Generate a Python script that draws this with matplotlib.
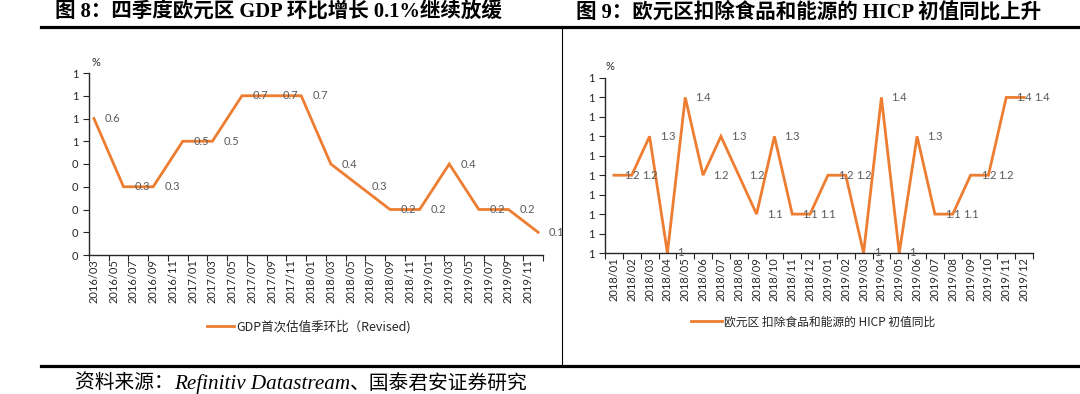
import matplotlib
matplotlib.use("Agg")
import matplotlib.pyplot as plt
from matplotlib.lines import Line2D
from matplotlib.ticker import FuncFormatter

# 图8：GDP首次估值季环比 (%)
gdp_dates = ["2016/03", "2016/06", "2016/09", "2016/12", "2017/03", "2017/06", "2017/09", "2017/12",
             "2018/03", "2018/06", "2018/09", "2018/12", "2019/03", "2019/06", "2019/09", "2019/12"]
gdp_values = [0.6, 0.3, 0.3, 0.5, 0.5, 0.7, 0.7, 0.7, 0.4, 0.3, 0.2, 0.2, 0.4, 0.2, 0.2, 0.1]
gdp_ticklabels = ["2016/03", "2016/05", "2016/07", "2016/09", "2016/11", "2017/01", "2017/03", "2017/05",
                  "2017/07", "2017/09", "2017/11", "2018/01", "2018/03", "2018/05", "2018/07", "2018/09",
                  "2018/11", "2019/01", "2019/03", "2019/05", "2019/07", "2019/09", "2019/11"]

# 图9：欧元区 扣除食品和能源的 HICP 初值同比 (%)
hicp_months = ["2018/01", "2018/02", "2018/03", "2018/04", "2018/05", "2018/06", "2018/07", "2018/08",
               "2018/09", "2018/10", "2018/11", "2018/12", "2019/01", "2019/02", "2019/03", "2019/04",
               "2019/05", "2019/06", "2019/07", "2019/08", "2019/09", "2019/10", "2019/11", "2019/12"]
hicp_values = [1.2, 1.2, 1.3, 1.0, 1.4, 1.2, 1.3, 1.2, 1.1, 1.3, 1.1, 1.1,
               1.2, 1.2, 1.0, 1.4, 1.0, 1.3, 1.1, 1.1, 1.2, 1.2, 1.4, 1.4]

ORANGE = "#ED7D31"
AXC = "#262626"
LABC = "#595959"
NUMFONT = ["Lato", "DejaVu Sans"]
CJK = ["Noto Sans CJK SC", "DejaVu Sans"]


def month_idx(s, start):
    y, m = s.split("/")
    y0, m0 = start.split("/")
    return (int(y) - int(y0)) * 12 + int(m) - int(m0)


# Excel 风格整数刻度（四舍五入）
int_fmt = FuncFormatter(lambda v, p: str(int(v + 0.5 + 1e-9)))


def style_axes(ax):
    for s in ["top", "right"]:
        ax.spines[s].set_visible(False)
    for s in ["left", "bottom"]:
        ax.spines[s].set_color(AXC)
        ax.spines[s].set_linewidth(1.0)
    ax.tick_params(axis="both", which="major", direction="out", length=4, width=0.8,
                   color=AXC, labelsize=8, labelcolor=AXC)
    ax.tick_params(axis="x", which="minor", length=0, labelsize=8, labelcolor=AXC, pad=3)
    ax.yaxis.set_major_formatter(int_fmt)
    for t in ax.get_yticklabels():
        t.set_family(NUMFONT)


fig = plt.figure(figsize=(10.8, 3.94), dpi=100)

# ---- 左图
ax1 = fig.add_axes([89 / 1080, 1 - 255 / 394, 454 / 1080, 182 / 394])
x1 = [month_idx(d, "2016/03") for d in gdp_dates]
ax1.plot(x1, gdp_values, color=ORANGE, lw=2.0, solid_joinstyle="miter", label="GDP首次估值季环比（Revised)")
for xv, yv in zip(x1, gdp_values):
    ax1.annotate(f"{yv:g}", (xv, yv), xytext=(11, 0), textcoords="offset pixels",
                 ha="left", va="center", fontsize=8, color=LABC, family=NUMFONT)
ax1.set_xlim(-0.5, 45.5)
ax1.set_ylim(0, 0.8)
ax1.set_yticks([i / 10 for i in range(9)])
ax1.set_xticks([-0.5 + 2 * k for k in range(24)])
ax1.set_xticklabels([])
ax1.set_xticks([month_idx(t, "2016/03") for t in gdp_ticklabels], minor=True)
ax1.set_xticklabels(gdp_ticklabels, minor=True, rotation=90, family=NUMFONT)
style_axes(ax1)
fig.text(91 / 1080, 1 - 62 / 394, "%", fontsize=8, color=AXC, ha="left", va="center", family=NUMFONT)
ax1.legend(loc="center", bbox_to_anchor=(309 / 1080, 1 - 327 / 394), bbox_transform=fig.transFigure,
           frameon=False, prop={"family": CJK, "size": 9}, handlelength=2.2, handletextpad=0.2,
           labelcolor=AXC)

# ---- 右图
ax2 = fig.add_axes([605 / 1080, 1 - 253 / 394, 428 / 1080, 175 / 394])
x2 = list(range(len(hicp_months)))
ax2.plot(x2, hicp_values, color=ORANGE, lw=2.0, solid_joinstyle="miter",
         label="欧元区 扣除食品和能源的 HICP 初值同比")
for xv, yv in zip(x2, hicp_values):
    ax2.annotate(f"{yv:g}", (xv, yv), xytext=(10, 0), textcoords="offset pixels",
                 ha="left", va="center", fontsize=8, color=LABC, family=NUMFONT)
ax2.set_xlim(-0.5, len(hicp_months) - 0.5)
ax2.set_ylim(1.0, 1.45)
ax2.set_yticks([1.0 + 0.05 * i for i in range(10)])
ax2.set_xticks([k - 0.5 for k in range(len(hicp_months) + 1)])
ax2.set_xticklabels([])
ax2.set_xticks(x2, minor=True)
ax2.set_xticklabels(hicp_months, minor=True, rotation=90, family=NUMFONT)
style_axes(ax2)
fig.text(606 / 1080, 1 - 67 / 394, "%", fontsize=8, color=AXC, ha="left", va="center", family=NUMFONT)
ax2.legend(loc="center", bbox_to_anchor=(813 / 1080, 1 - 322 / 394), bbox_transform=fig.transFigure,
           frameon=False, prop={"family": CJK, "size": 8.5}, handlelength=2.6, handletextpad=0.2,
           labelcolor=AXC)

# ---- 标题与框线
tfont = ["Liberation Serif", "Noto Sans CJK SC"]
fig.text(55 / 1080, 1 - 12 / 394, "图 8：四季度欧元区 GDP 环比增长 0.1%继续放缓", fontsize=14.8,
         fontweight="bold", family=tfont, ha="left", va="center")
fig.text(576 / 1080, 1 - 12 / 394, "图 9：欧元区扣除食品和能源的 HICP 初值同比上升", fontsize=14.8,
         fontweight="bold", family=tfont, ha="left", va="center")
fig.add_artist(Line2D([41 / 1080, 1], [1 - 27 / 394] * 2, transform=fig.transFigure, color="black", lw=2.3))
fig.add_artist(Line2D([41 / 1080, 1], [1 - 366 / 394] * 2, transform=fig.transFigure, color="black", lw=2.3))
fig.add_artist(Line2D([562 / 1080] * 2, [1 - 28 / 394, 1 - 366 / 394], transform=fig.transFigure,
                      color="black", lw=0.8))

# ---- 资料来源
renderer = fig.canvas.get_renderer()
sy = 1 - 384 / 394
t1 = fig.text(75 / 1080, sy, "资料来源：", fontsize=14.2, family=tfont, ha="left", va="center")
x_next = t1.get_window_extent(renderer).x1 / fig.bbox.width
t2 = fig.text(x_next, sy, "Refinitiv Datastream", fontsize=15.2, family=tfont, style="italic",
              ha="left", va="center")
x_next = t2.get_window_extent(renderer).x1 / fig.bbox.width
fig.text(x_next, sy, "、国泰君安证券研究", fontsize=14.2, family=tfont, ha="left", va="center")

fig.savefig("out.png", dpi=100)
